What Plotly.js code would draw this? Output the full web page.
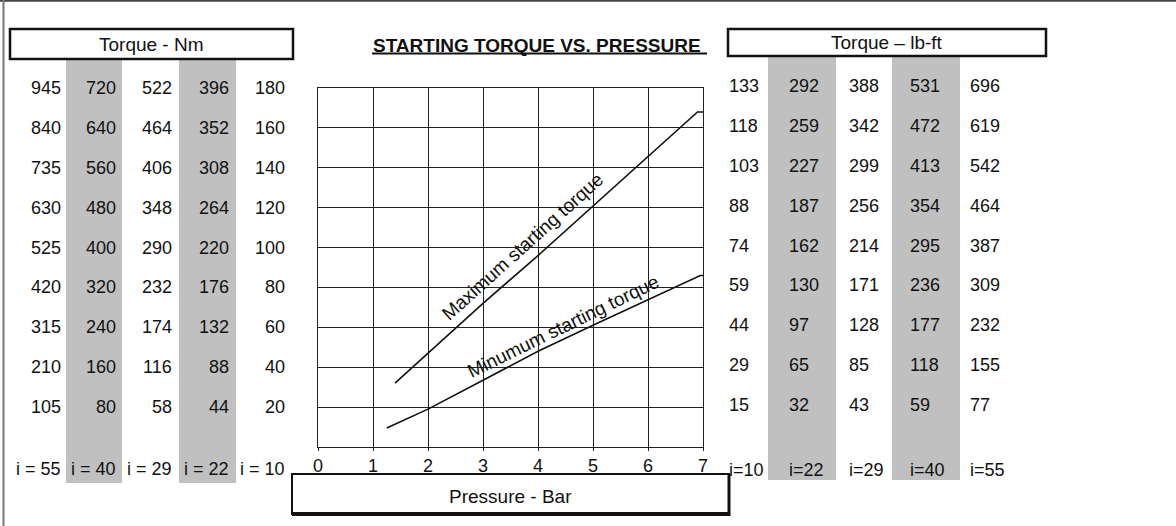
<!DOCTYPE html>
<html><head><meta charset="utf-8">
<script src="https://cdn.plot.ly/plotly-3.0.1.min.js"></script>
<style>html,body{margin:0;padding:0;background:#fff;} #chart{width:1176px;height:526px;}</style>
</head><body><div id="chart"></div>
<script>
// ---------------- DATA ----------------
const pressureTicks = [0, 1, 2, 3, 4, 5, 6, 7];
// Torque (Nm) per gear ratio; the i = 10 column also matches the chart's y-axis
const nmI55 = [945, 840, 735, 630, 525, 420, 315, 210, 105];
const nmI40 = [720, 640, 560, 480, 400, 320, 240, 160, 80];
const nmI29 = [522, 464, 406, 348, 290, 232, 174, 116, 58];
const nmI22 = [396, 352, 308, 264, 220, 176, 132, 88, 44];
const nmI10 = [180, 160, 140, 120, 100, 80, 60, 40, 20];
const nmLabels = ['i = 55', 'i = 40', 'i = 29', 'i = 22', 'i = 10'];
// Torque (lb-ft)
const lbI10 = [133, 118, 103, 88, 74, 59, 44, 29, 15];
const lbI22 = [292, 259, 227, 187, 162, 130, 97, 65, 32];
const lbI29 = [388, 342, 299, 256, 214, 171, 128, 85, 43];
const lbI40 = [531, 472, 413, 354, 295, 236, 177, 118, 59];
const lbI55 = [696, 619, 542, 464, 387, 309, 232, 155, 77];
const lbLabels = ['i=10', 'i=22', 'i=29', 'i=40', 'i=55'];
// Curves (pressure bar -> torque Nm at i = 10)
const maxPressure = [1.4, 2, 3, 4, 5, 6, 6.9, 7];
const maxTorque   = [32, 47, 72, 96, 121, 146, 168, 168];
const minPressure = [1.25, 2, 3, 4, 5, 6, 6.95, 7];
const minTorque   = [9.5, 19, 33.5, 48, 61, 74, 86, 86];

// ---------------- LAYOUT HELPERS ----------------
const W = 1176, H = 526, L = 318, R = 703, T = 88, B = 447;
const px = v => (v - L) / (R - L);
const py = v => (B - v) / (B - T);
const FONT = 'Arial, "Liberation Sans", sans-serif';
const INK = '#111';
const annotations = [];
const shapes = [];

function note(text, x, y, o) {
  o = o || {};
  annotations.push(Object.assign({
    text: text, x: x, y: y, xref: 'paper', yref: 'paper',
    showarrow: false, borderpad: 0, xanchor: 'center', yanchor: 'middle',
    font: {family: FONT, size: 18, color: INK}
  }, o));
}
function rect(x0, y0, x1, y1, o) {
  shapes.push(Object.assign({type: 'rect', xref: 'paper', yref: 'paper',
    x0: px(x0), x1: px(x1), y0: py(y0), y1: py(y1)}, o));
}
function hline(x0, x1, y, w, c) {
  shapes.push({type: 'line', xref: 'paper', yref: 'paper', x0: px(x0), x1: px(x1), y0: py(y), y1: py(y),
    line: {color: c || INK, width: w}});
}
function vline(x, y0, y1, w, c) {
  shapes.push({type: 'line', xref: 'paper', yref: 'paper', x0: px(x), x1: px(x), y0: py(y0), y1: py(y1),
    line: {color: c || INK, width: w}});
}

// outer frame
hline(0, W, 0.8, 2, '#444');
vline(3.5, 0, H, 2, '#777');

// grey columns
const GREY = '#c0c0c0';
rect(66, 59, 122, 483, {fillcolor: GREY, line: {width: 0}, layer: 'below'});
rect(179, 59, 236, 483, {fillcolor: GREY, line: {width: 0}, layer: 'below'});
rect(768, 57, 836, 480, {fillcolor: GREY, line: {width: 0}, layer: 'below'});
rect(892, 57, 960, 480, {fillcolor: GREY, line: {width: 0}, layer: 'below'});

// header boxes
rect(10, 59, 293, 29, {line: {color: INK, width: 2.5}});
note('Torque - Nm', px(151), py(44), {font: {family: FONT, size: 19, color: INK}});
rect(728, 56, 1046, 29, {line: {color: INK, width: 2.5}});
note('Torque – lb-ft', px(887), py(42.5), {font: {family: FONT, size: 19, color: INK}});
rect(292, 514, 729, 474, {line: {color: INK, width: 2}});
hline(292, 730, 514, 4);
vline(729, 474, 516, 3);
note('Pressure - Bar', px(510.5), py(496), {font: {family: FONT, size: 19, color: INK}});

// title
note('<b>STARTING TORQUE VS. PRESSURE</b>', px(537), py(45), {font: {family: FONT, size: 19, color: INK}});
hline(372, 707, 53.5, 2);

// left table (right aligned)
const leftCols = [nmI55, nmI40, nmI29, nmI22, nmI10];
const leftRight = [62, 117, 173, 230, 286];
leftCols.forEach((col, c) => {
  col.forEach((v, r) => {
    annotations.push({text: String(v), x: px(leftRight[c]), xref: 'paper', y: nmI10[r], yref: 'y',
      xanchor: 'right', yanchor: 'middle', showarrow: false, borderpad: 0,
      font: {family: FONT, size: 18, color: INK}});
  });
  note(nmLabels[c], px(leftRight[c]), py(469), {xanchor: 'right'});
});

// right table (left aligned)
const rightCols = [lbI10, lbI22, lbI29, lbI40, lbI55];
const rightLeft = [728, 788, 848, 909, 969];
rightCols.forEach((col, c) => {
  col.forEach((v, r) => {
    annotations.push({text: String(v), x: px(rightLeft[c]), xref: 'paper', y: nmI10[r], yref: 'y',
      xanchor: 'left', yanchor: 'middle', showarrow: false, borderpad: 0, yshift: 2,
      font: {family: FONT, size: 18, color: INK}});
  });
  note(lbLabels[c], px(rightLeft[c]), py(470), {xanchor: 'left'});
});

// curve labels
annotations.push({text: 'Maximum starting torque', x: 3.72, y: 100.5, xref: 'x', yref: 'y',
  textangle: -42, showarrow: false, borderpad: 0, font: {family: FONT, size: 19, color: INK}});
annotations.push({text: 'Minumum starting torque', x: 4.45, y: 60.5, xref: 'x', yref: 'y',
  textangle: -26, showarrow: false, borderpad: 0, font: {family: FONT, size: 19, color: INK}});

const traces = [
  {x: maxPressure, y: maxTorque, type: 'scatter', mode: 'lines', line: {color: INK, width: 1.6}, hoverinfo: 'skip'},
  {x: minPressure, y: minTorque, type: 'scatter', mode: 'lines', line: {color: INK, width: 1.6}, hoverinfo: 'skip'}
];

const layout = {
  width: W, height: H,
  margin: {l: L, r: W - R, t: T, b: H - B, pad: 0},
  paper_bgcolor: '#fff', plot_bgcolor: '#fff',
  showlegend: false,
  font: {family: FONT, size: 18, color: INK},
  xaxis: {range: [0, 7], tickvals: pressureTicks, showgrid: true, gridcolor: '#222', gridwidth: 1,
    ticks: 'outside', ticklen: 3, tickcolor: '#222', showline: true, mirror: true, linecolor: '#222',
    linewidth: 1, zeroline: false, fixedrange: true, ticklabelstandoff: -1,
    tickfont: {family: FONT, size: 18, color: INK}},
  yaxis: {range: [0, 180], dtick: 20, showgrid: true, gridcolor: '#222', gridwidth: 1,
    showticklabels: false, ticks: '', showline: true, mirror: true, linecolor: '#222', linewidth: 1,
    zeroline: false, fixedrange: true},
  shapes: shapes,
  annotations: annotations
};

Plotly.newPlot('chart', traces, layout, {staticPlot: true, displayModeBar: false});
</script>
</body></html>
